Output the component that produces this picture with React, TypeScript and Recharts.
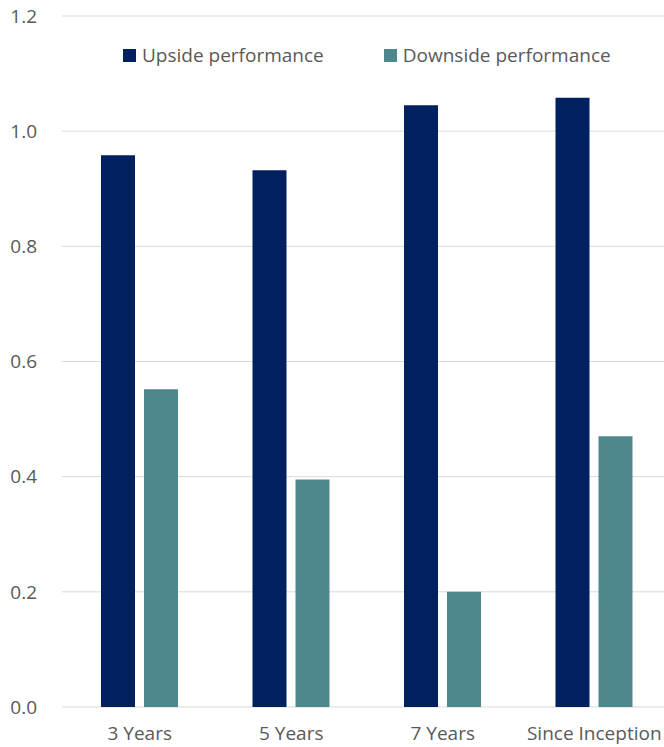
import React from "react";
import { BarChart, Bar, XAxis, YAxis, CartesianGrid, Legend } from "recharts";

const categories = ["3 Years", "5 Years", "7 Years", "Since Inception"];
const upside = [0.958, 0.932, 1.045, 1.058];
const downside = [0.552, 0.395, 0.2, 0.47];
const yTicks = [0, 0.2, 0.4, 0.6, 0.8, 1.0, 1.2];

const seriesNames = ["Upside performance", "Downside performance"];
const seriesColors = ["#002060", "#4E878C"];

const data = categories.map((c, i) => ({ name: c, up: upside[i], down: downside[i] }));

const FONT = "'Open Sans', sans-serif";
const TEXT = "#595959";

const renderLegend = () => (
  <div style={{ display: "flex", alignItems: "center", fontFamily: FONT, fontSize: 19, color: TEXT }}>
    {seriesNames.map((n, i) => (
      <div key={n} style={{ display: "flex", alignItems: "center", marginRight: i === 0 ? 60 : 0 }}>
        <div style={{ width: 13, height: 13, background: seriesColors[i], marginRight: 6 }} />
        <span style={{ whiteSpace: "nowrap" }}>{n}</span>
      </div>
    ))}
  </div>
);

export default function App() {
  return (
    <div style={{ position: "absolute", left: 0, top: 0, width: 664, height: 747, overflow: "hidden", background: "#fff" }}>
      <BarChart
        width={670}
        height={747}
        data={data}
        margin={{ top: 16, right: 0, left: 0, bottom: 0 }}
        barGap={9}
        barSize={34}
      >
        <CartesianGrid horizontal vertical={false} stroke="#d9d9d9" strokeWidth={1} />
        <XAxis
          dataKey="name"
          height={40}
          axisLine={false}
          tickLine={false}
          tickSize={0}
          tickMargin={20}
          padding={{ left: 2, right: 0 }}
          tick={{ fill: TEXT, fontSize: 19, fontFamily: FONT }}
          interval={0}
        />
        <YAxis
          width={62}
          domain={[0, 1.2]}
          ticks={yTicks}
          axisLine={false}
          tickLine={false}
          tickSize={0}
          tickMargin={25}
          tickFormatter={(v: number) => v.toFixed(1)}
          tick={{ fill: TEXT, fontSize: 19, fontFamily: FONT }}
        />
        <Legend
          verticalAlign="middle"
          align="center"
          content={renderLegend}
          wrapperStyle={{ top: 42, left: 123, width: 540 }}
        />
        <Bar dataKey="up" name={seriesNames[0]} fill={seriesColors[0]} isAnimationActive={false} />
        <Bar dataKey="down" name={seriesNames[1]} fill={seriesColors[1]} isAnimationActive={false} />
      </BarChart>
    </div>
  );
}
